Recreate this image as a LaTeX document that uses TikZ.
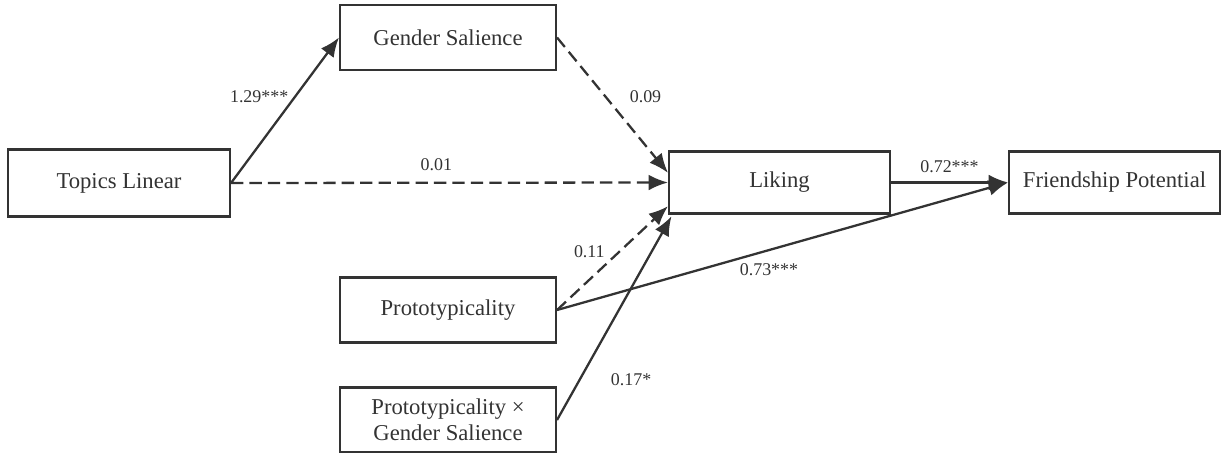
\documentclass[tikz,border=0pt]{standalone}
\usepackage{fontspec}
\setmainfont{Liberation Serif}
\usepackage{tikz}
\usetikzlibrary{arrows.meta, positioning}
\definecolor{linegray}{RGB}{51, 51, 51}

\begin{document}
\begin{tikzpicture}[
    x=0.02cm, y=-0.02cm,
    var/.style={draw=linegray, line width=1.2pt, minimum width=4.32cm,
                minimum height=1.3cm, align=center, text=linegray,
                font=\fontsize{12.9}{15}\selectfont},
    path/.style={-{Latex[length=11pt, width=9pt]}, line width=1.3pt, linegray},
    nsig/.style={path, dash pattern=on 7pt off 3.5pt},
    coef/.style={font=\fontsize{10.2}{12}\selectfont, text=linegray, inner sep=1pt}
]
    \useasboundingbox (0,0) rectangle (1225,453);

    % Variables
    \node[var, minimum width=4.44cm, minimum height=1.34cm] (topics) at (119,183) {Topics Linear};
    \node[var] (gender) at (448,37.5) {Gender Salience};
    \node[var, minimum width=4.42cm, minimum height=1.24cm] (liking) at (779.5,182.5) {Liking};
    \node[var, minimum width=4.22cm, minimum height=1.24cm] (friend) at (1114.5,182.5) {Friendship Potential};
    \node[var] (proto) at (448,310) {Prototypicality};
    \node[var] (inter) at (448,420) {Prototypicality ×\\Gender Salience};

    % Paths
    \draw[path] (topics.east) -- (gender.west)
        node[coef, pos=0.59, left=2pt] {1.29***};
    \draw[nsig] (topics.east) -- (liking.west)
        node[coef, pos=0.47, above=5pt] {0.01};
    \draw[nsig] (gender.east) -- ([yshift=5.5pt]liking.west)
        node[coef, pos=0.44, right=12pt] {0.09};
    \draw[nsig] (proto.east) -- ([yshift=-13.5pt]liking.west)
        node[coef, pos=0.44, above left=2pt and -1pt] {0.11};
    \draw[path] (inter.east) -- ([xshift=2pt, yshift=-1pt]liking.south west)
        node[coef, pos=0.2, right=16pt] {0.17*};
    \draw[path] (proto.east) -- (friend.west)
        node[coef, pos=0.47, below=6pt] {0.73***};
    \draw[path] (liking.east) -- (friend.west)
        node[coef, midway, above=4pt] {0.72***};
\end{tikzpicture}
\end{document}
